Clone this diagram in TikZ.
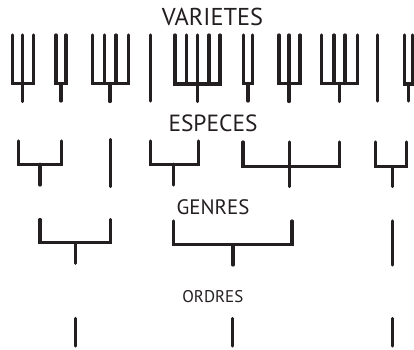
\documentclass[tikz,border=0pt]{standalone}
\usepackage{fontspec}
\setmainfont{PT Sans}
\definecolor{ink}{HTML}{231F20}
\begin{document}
\begin{tikzpicture}[x=1bp,y=-1bp,
  br/.style={draw=ink,line width=3.2bp,line cap=round,line join=miter},
  lbl/.style={inner sep=0pt,text=ink}]
\useasboundingbox (0,0) rectangle (414,350);
\begin{scope}
\clip (0,0) rectangle (414,350);
% ---- VARIETES -> ESPECES
\draw[br] (12.7,35)--(12.7,83.5)--(33.3,83.5)--(33.3,35) (22.7,35)--(22.7,101.5);
\draw[br] (56,35)--(56,83.5)--(66,83.5)--(66,35) (61,83.5)--(61,101);
\draw[br] (92.7,35)--(92.7,83.5)--(128.3,83.5)--(128.3,35) (104.3,35)--(104.3,83.5) (116,35)--(116,83.5) (110,83.5)--(110,101.5);
\draw[br] (150.7,35)--(150.7,101);
\draw[br] (175,35)--(175,84)--(220,84)--(220,35) (186.7,35)--(186.7,84) (209,35)--(209,84) (197.7,35)--(197.7,101.5);
\draw[br] (243.3,35)--(243.3,83.5)--(252.7,83.5)--(252.7,35) (248,83.5)--(248,101);
\draw[br] (279,35)--(279,83.5)--(300,83.5)--(300,35) (289,35)--(289,101.5);
\draw[br] (321.3,35)--(321.3,83.5)--(357.3,83.5)--(357.3,35) (334,35)--(334,83.5) (345,35)--(345,83.5) (339.7,83.5)--(339.7,101.5);
\draw[br] (377.3,35)--(377.3,101);
\draw[br] (404.7,35)--(404.7,84)--(412.5,84)--(412.5,35) (408.3,84)--(408.3,101);
% ---- ESPECES -> GENRES
\draw[br] (18.3,141)--(18.3,164.3)--(61.7,164.3)--(61.7,141) (40,164.3)--(40,185);
\draw[br] (110.7,139.5)--(110.7,186.5);
\draw[br] (150.7,141)--(150.7,164.3)--(198.3,164.3)--(198.3,141) (173.3,164.3)--(173.3,185);
\draw[br] (243,142)--(243,166.5)--(339.7,166.5)--(339.7,142) (289.7,142)--(289.7,186.5);
\draw[br] (375.7,142)--(375.7,166.5)--(406.3,166.5)--(406.3,142) (392.3,166.5)--(392.3,186.5);
% ---- GENRES -> ORDRES
\draw[br] (40,219.5)--(40,242.8)--(110.7,242.8)--(110.7,219.5) (75.6,242.8)--(75.6,263.3);
\draw[br] (173.3,221)--(173.3,244.6)--(292,244.6)--(292,221) (233,244.6)--(233,265);
\draw[br] (392.3,221)--(392.3,265);
% ---- ORDRES
\draw[br] (75.4,318.5)--(75.4,346);
\draw[br] (232.7,318.5)--(232.7,346);
\draw[br] (392.3,318.5)--(392.3,346);
\end{scope}
\node[lbl,font=\fontsize{24.5}{24.5}\selectfont] (var) at (212.5,16.7) {VARIETES};
\node[lbl,font=\fontsize{23.5}{23.5}\selectfont] (esp) at (213,123) {ESPECES};
\node[lbl,font=\fontsize{21}{21}\selectfont] (gen) at (213,207.5) {GENRES};
\node[lbl,font=\fontsize{17}{17}\selectfont] (ord) at (212.8,296.3) {ORDRES};
\end{tikzpicture}
\end{document}
